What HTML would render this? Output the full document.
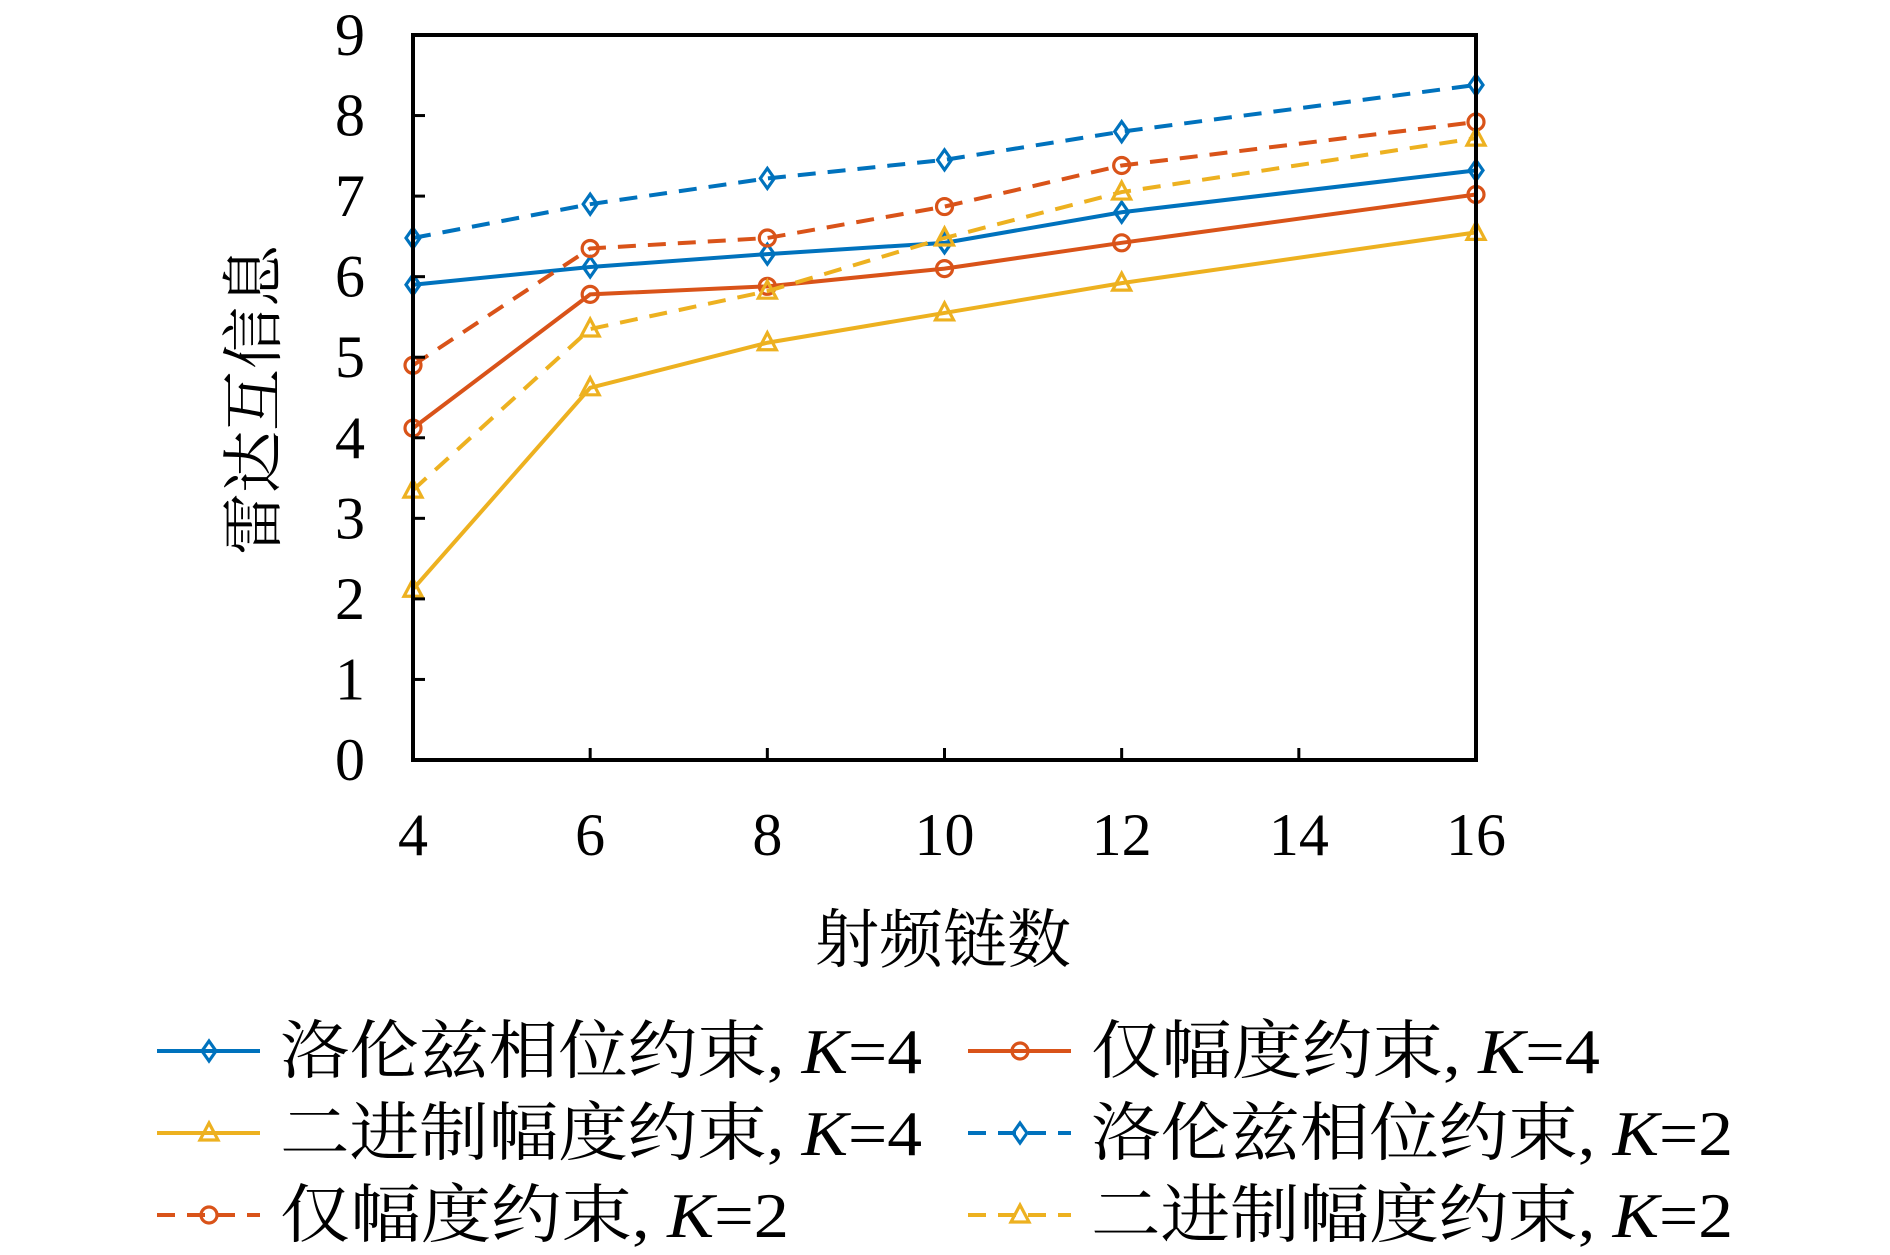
<!DOCTYPE html>
<html><head><meta charset="utf-8"><style>
html,body{margin:0;padding:0;background:#fff;}
svg{display:block;}
text{font-family:"Liberation Serif","Noto Serif CJK SC",serif;fill:#000;}
</style></head><body>
<svg id="chart" width="1890" height="1255" viewBox="0 0 1890 1255" xmlns="http://www.w3.org/2000/svg">
<g id="plot"></g>
<text transform="translate(275,400) rotate(-90)" text-anchor="middle" font-size="62" font-family="'Liberation Serif','Noto Serif CJK SC',serif">雷达互信息</text>
<text x="943" y="962" text-anchor="middle" font-size="64" font-family="'Liberation Serif','Noto Serif CJK SC',serif">射频链数</text>
<g id="legend"></g>
</svg>
<script>
const xCats=[4,6,8,10,12,16];
const xTicks=[4,6,8,10,12,14,16];
const yTicks=[0,1,2,3,4,5,6,7,8,9];
const lorentzK4=[5.9,6.12,6.28,6.42,6.8,7.32];
const ampK4=[4.12,5.78,5.88,6.1,6.42,7.02];
const binK4=[2.12,4.62,5.18,5.55,5.92,6.55];
const lorentzK2=[6.48,6.9,7.22,7.45,7.8,8.38];
const ampK2=[4.9,6.35,6.48,6.87,7.38,7.92];
const binK2=[3.35,5.35,5.82,6.48,7.05,7.72];
const seriesNames=["洛伦兹相位约束","仅幅度约束","二进制幅度约束","洛伦兹相位约束","仅幅度约束","二进制幅度约束"];

const NS="http://www.w3.org/2000/svg";
const L=413,R=1476,T=35,B=760;
const xs=v=>L+(v-4)/(16-4)*(R-L);
const ys=v=>B-v/9*(B-T);
const plot=document.getElementById('plot');
const leg=document.getElementById('legend');
function mk(tag,attrs,parent){const e=document.createElementNS(NS,tag);for(const k in attrs)e.setAttribute(k,attrs[k]);parent.appendChild(e);return e;}

const series=[
 {vals:lorentzK4,color:'#0072BD',dash:null,marker:'diamond',name:'lorentz-k4'},
 {vals:ampK4,color:'#D95319',dash:null,marker:'circle',name:'amp-k4'},
 {vals:binK4,color:'#EDB120',dash:null,marker:'triangle',name:'binary-k4'},
 {vals:lorentzK2,color:'#0072BD',dash:'18 12',marker:'diamond',name:'lorentz-k2'},
 {vals:ampK2,color:'#D95319',dash:'18 12',marker:'circle',name:'amp-k2'},
 {vals:binK2,color:'#EDB120',dash:'18 12',marker:'triangle',name:'binary-k2'}
];
function marker(type,x,y,color,parent,name){
 let e;
 if(type==='diamond') e=mk('polygon',{points:`${x},${y-10} ${x+7},${y} ${x},${y+10} ${x-7},${y}`},parent);
 else if(type==='circle') e=mk('circle',{cx:x,cy:y,r:8},parent);
 else e=mk('polygon',{points:`${x},${y-10} ${x+9},${y+7} ${x-9},${y+7}`},parent);
 e.setAttribute('fill','none');e.setAttribute('stroke',color);e.setAttribute('stroke-width','3.2');
 
 
}
series.forEach(s=>{
 const pts=s.vals.map((v,i)=>xs(xCats[i])+','+ys(v)).join(' ');
 const pl=mk('polyline',{points:pts,fill:'none',stroke:s.color,'stroke-width':4},plot);
 if(s.dash)pl.setAttribute('stroke-dasharray',s.dash);
 
 
 s.vals.forEach((v,i)=>marker(s.marker,xs(xCats[i]),ys(v),s.color,plot,'point-'+s.name));
});
const box=mk('rect',{x:L,y:T,width:R-L,height:B-T,fill:'none',stroke:'#000','stroke-width':4},plot);


xTicks.forEach(t=>{
 const ln=mk('line',{x1:xs(t),x2:xs(t),y1:B,y2:B-12,stroke:'#000','stroke-width':3},plot);
 
 
 const tx=mk('text',{x:xs(t),y:855,'text-anchor':'middle','font-size':60},plot);
 tx.textContent=t;
 
 
});
yTicks.forEach(t=>{
 const ln=mk('line',{x1:L,x2:L+12,y1:ys(t),y2:ys(t),stroke:'#000','stroke-width':3},plot);
 
 
 const tx=mk('text',{x:365,y:ys(t)+20,'text-anchor':'end','font-size':60},plot);
 tx.textContent=t;
 
 
});
const legPos=[[157,1051,922],[968,1051,1600],[157,1133,922],[968,1133,1733],[157,1215,789],[968,1215,1733]];
const order=[0,1,2,3,4,5];
const kvals=['4','4','4','2','2','2'];
order.forEach((si,j)=>{
 const s=series[si];const [x0,y0,xe]=legPos[j];
 const g=mk('g',{},leg);
 
 
 const ln=mk('line',{x1:x0,x2:x0+103,y1:y0,y2:y0,stroke:s.color,'stroke-width':4},g);
 if(s.dash)ln.setAttribute('stroke-dasharray','18 12');
 marker(s.marker,x0+52,y0,s.color,g,'legend-marker');
 const tx=mk('text',{x:x0+123,y:y0+22,'font-size':64,textLength:xe-(x0+123),lengthAdjust:'spacingAndGlyphs'},g);
 tx.innerHTML=seriesNames[si]+', <tspan font-style="italic">K</tspan>='+kvals[si];
 
 
});
</script>
</body></html>
